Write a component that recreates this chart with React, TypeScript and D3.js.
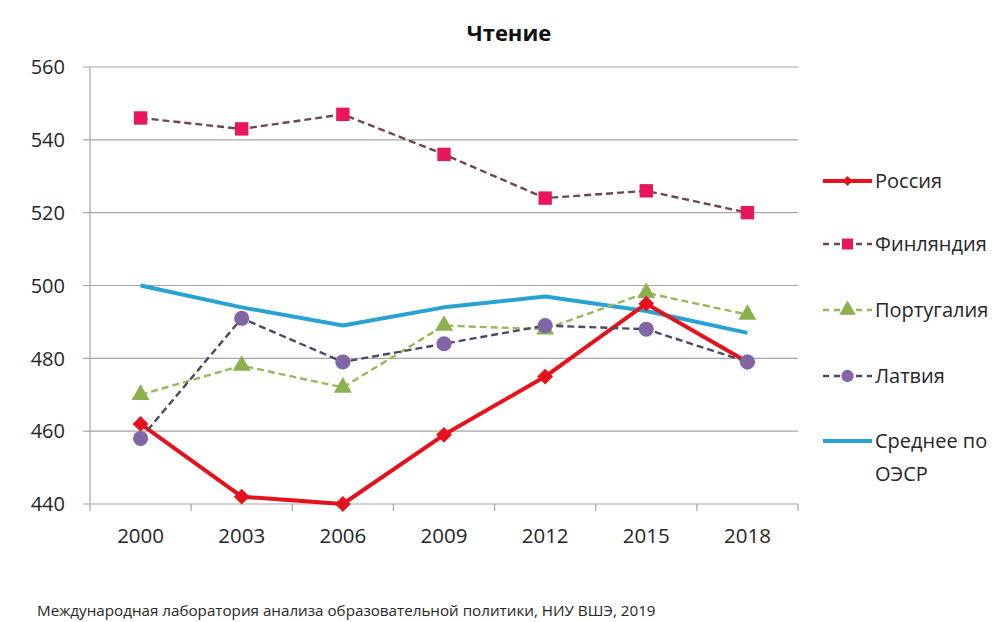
import { useEffect, useRef } from "react";
import * as d3 from "d3";

const years = ["2000", "2003", "2006", "2009", "2012", "2015", "2018"];
const russia = [462, 442, 440, 459, 475, 495, 479];
const finland = [546, 543, 547, 536, 524, 526, 520];
const portugal = [470, 478, 472, 489, 488, 498, 492];
const latvia = [458, 491, 479, 484, 489, 488, 479];
const oecd = [500, 494, 489, 494, 497, 493, 487];
const yTicks = [440, 460, 480, 500, 520, 540, 560];

type Marker = "diamond" | "square" | "triangle" | "circle" | "none";

interface Series {
	name: string[];
	values: number[];
	line: string;
	fill: string;
	width: number;
	dash: string | null;
	marker: Marker;
}

const series: Series[] = [
	{ name: ["Россия"], values: russia, line: "#e3121b", fill: "#e3121b", width: 4, dash: null, marker: "diamond" },
	{ name: ["Финляндия"], values: finland, line: "#6e4848", fill: "#e8175d", width: 2.4, dash: "7,4", marker: "square" },
	{ name: ["Португалия"], values: portugal, line: "#98b85a", fill: "#8cb04e", width: 2.4, dash: "7,4", marker: "triangle" },
	{ name: ["Латвия"], values: latvia, line: "#4a4a66", fill: "#8066a4", width: 2.4, dash: "7,4", marker: "circle" },
	{ name: ["Среднее по", "ОЭСР"], values: oecd, line: "#27a2d3", fill: "#27a2d3", width: 4, dash: null, marker: "none" }
];

const font = "'Open Sans', sans-serif";

// diamonds are drawn as squares turned by 45 degrees
const symbolFor = (m: Marker) => {
	if (m === "diamond") return d3.symbol(d3.symbolSquare, 125);
	if (m === "square") return d3.symbol(d3.symbolSquare, 180);
	if (m === "triangle") return d3.symbol(d3.symbolTriangle, 140);
	return d3.symbol(d3.symbolCircle, 180);
};
const rot = (m: Marker) => (m === "diamond" ? " rotate(45)" : "");

const Chart = () => {
	const ref = useRef<SVGSVGElement>(null);

	useEffect(() => {
		if (!ref.current) return;
		const svg = d3.select(ref.current);
		svg.selectAll("*").remove();

		const left = 90;
		const right = 798;
		const top = 67;
		const bottom = 504;

		const x = d3.scaleBand().domain(years).range([left, right]);
		const y = d3.scaleLinear().domain([440, 560]).range([bottom, top]);

		// grid
		svg
			.append("g")
			.selectAll("line")
			.data(yTicks)
			.join("line")
			.attr("x1", left - 7)
			.attr("x2", right)
			.attr("y1", (d) => y(d))
			.attr("y2", (d) => y(d))
			.attr("stroke", "#a6a6a6")
			.attr("stroke-width", 1.2);

		svg
			.append("line")
			.attr("x1", left)
			.attr("x2", left)
			.attr("y1", top)
			.attr("y2", bottom + 7)
			.attr("stroke", "#a6a6a6")
			.attr("stroke-width", 1.2);

		// x tick marks at band boundaries
		const bounds = years.map((yr) => x(yr) ?? 0).concat([right]).slice(1);
		svg
			.append("g")
			.selectAll("line")
			.data(bounds)
			.join("line")
			.attr("x1", (d) => d)
			.attr("x2", (d) => d)
			.attr("y1", bottom)
			.attr("y2", bottom + 7)
			.attr("stroke", "#a6a6a6")
			.attr("stroke-width", 1.2);

		svg
			.append("g")
			.selectAll("text")
			.data(yTicks)
			.join("text")
			.attr("x", 65)
			.attr("y", (d) => y(d))
			.attr("dy", "0.36em")
			.attr("text-anchor", "end")
			.attr("font-family", font)
			.attr("font-size", 20)
			.attr("fill", "#262626")
			.text((d) => `${d}`);

		svg
			.append("g")
			.selectAll("text")
			.data(years)
			.join("text")
			.attr("x", (d) => (x(d) ?? 0) + x.bandwidth() / 2)
			.attr("y", 543)
			.attr("text-anchor", "middle")
			.attr("font-family", font)
			.attr("font-size", 20.5)
			.attr("fill", "#262626")
			.text((d) => d);

		const cx = (i: number) => (x(years[i]) ?? 0) + x.bandwidth() / 2;
		const lineGen = d3
			.line<number>()
			.x((_, i) => cx(i))
			.y((d) => y(d));

		const drawOrder = [4, 1, 2, 0, 3];
		drawOrder.forEach((si) => {
			const s = series[si];
			const g = svg.append("g");
			g.append("path")
				.attr("d", lineGen(s.values))
				.attr("fill", "none")
				.attr("stroke", s.line)
				.attr("stroke-width", s.width)
				.attr("stroke-dasharray", s.dash)
				.attr("stroke-linejoin", "round");
			if (s.marker !== "none") {
				g.selectAll("path.m")
					.data(s.values)
					.join("path")
					.attr("class", "m")
					.attr("transform", (d, i) => `translate(${cx(i)},${y(d)})${rot(s.marker)}`)
					.attr("d", symbolFor(s.marker)())
					.attr("fill", s.fill);
			}
		});

		// legend
		const legendY = [181, 244, 310, 376, 441];
		series.forEach((s, i) => {
			const g = svg.append("g").attr("transform", `translate(823,${legendY[i]})`);
			g.append("line")
				.attr("x1", 0)
				.attr("x2", 49)
				.attr("stroke", s.line)
				.attr("stroke-width", s.width)
				.attr("stroke-dasharray", s.dash ? "6,5" : null);
			if (s.marker !== "none") {
				g.append("path")
					.attr("transform", `translate(24.5,0)${rot(s.marker)}`)
					.attr("d", symbolFor(s.marker).size(s.marker === "diamond" ? 50 : 120)())
					.attr("fill", s.fill);
			}
			s.name.forEach((t, j) => {
				g.append("text")
					.attr("x", 52)
					.attr("y", j * 33)
					.attr("dy", "0.35em")
					.attr("font-family", font)
					.attr("font-size", 20)
					.attr("fill", "#262626")
					.text(t);
			});
		});

		svg
			.append("text")
			.attr("x", 509)
			.attr("y", 41)
			.attr("text-anchor", "middle")
			.attr("font-family", font)
			.attr("font-weight", 700)
			.attr("font-size", 22)
			.attr("fill", "#111")
			.text("Чтение");

		svg
			.append("text")
			.attr("x", 37)
			.attr("y", 616)
			.attr("font-family", font)
			.attr("font-size", 15.2)
			.attr("fill", "#262626")
			.text("Международная лаборатория анализа образовательной политики, НИУ ВШЭ, 2019");
	}, []);

	return (
		<svg
			ref={ref}
			width={1001}
			height={622}
			style={{ position: "absolute", left: 0, top: 0, background: "#fff" }}
		/>
	);
};

export default function App() {
	return <Chart />;
}
